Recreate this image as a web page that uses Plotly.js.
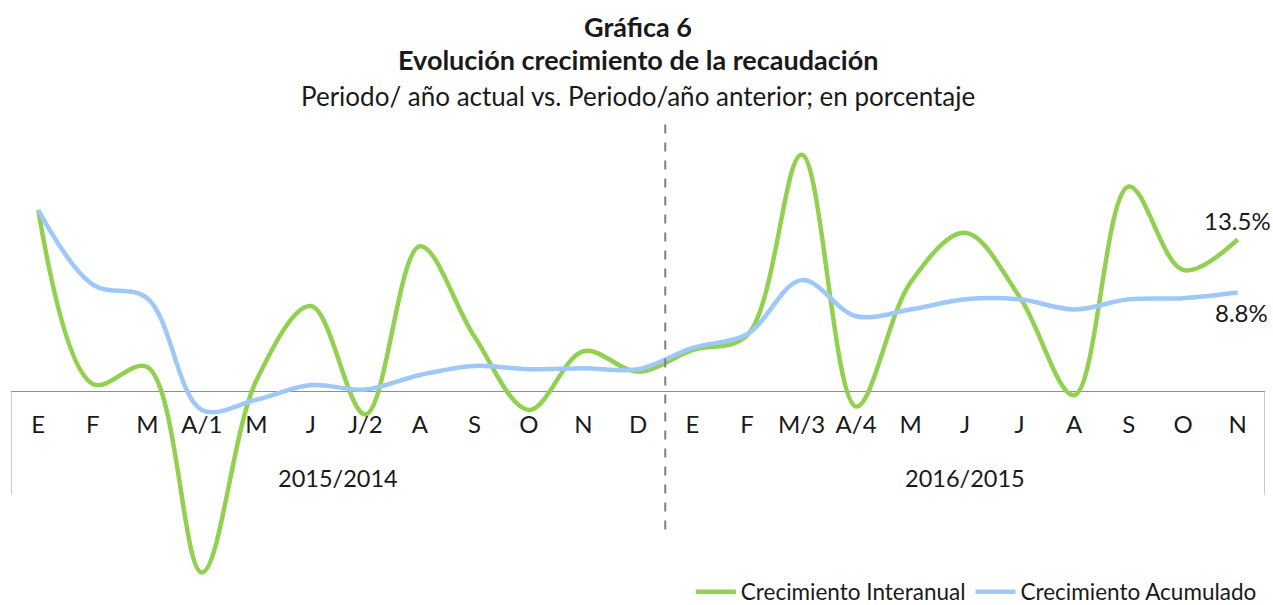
<!DOCTYPE html>
<html>
<head>
<meta charset="utf-8">
<script src="https://cdn.plot.ly/plotly-3.0.1.min.js"></script>
<style>html,body{margin:0;padding:0;background:#fff;}#chart{width:1273px;height:605px;}</style>
</head>
<body>
<div id="chart"></div>
<script>
// Data
const months = ["E","F","M","A/1","M","J","J/2","A","S","O","N","D",
                "E","F","M/3","A/4","M","J","J","A","S","O","N"];
const periods = ["2015/2014","2016/2015"];
const interanual = [16.1,0.7,2.2,-16.0,1.0,7.6,-2.0,12.9,4.9,-1.6,3.6,1.8,
                    3.7,5.0,21.0,-1.3,9.7,14.1,8.4,-0.3,18.2,10.8,13.5];
const acumulado = [16.1,9.5,8.3,-1.6,-0.7,0.6,0.2,1.5,2.3,2.0,2.1,2.0,
                   3.9,5.1,9.9,6.7,7.3,8.2,8.2,7.3,8.2,8.3,8.8];
const seriesNames = ["Crecimiento Interanual","Crecimiento Acumulado"];

const idx = months.map((m,i)=>i);
const FONT = "Lato, 'Open Sans', sans-serif";
const n = months.length;

const traces = [
  {x: idx, y: interanual, name: seriesNames[0], type:'scatter', mode:'lines',
   line:{color:'#92D050', width:4.5, shape:'spline', smoothing:1}, hoverinfo:'skip'},
  {x: idx, y: acumulado, name: seriesNames[1], type:'scatter', mode:'lines',
   line:{color:'#9DC8F8', width:4.5, shape:'spline', smoothing:1}, hoverinfo:'skip'}
];

const yMin = -18, yMax = 24;
const TOP = 121, BOT = 10, H = 605;
const plotH = H - TOP - BOT;
const py = px => (H - BOT - px) / plotH;   // pixel row -> paper y

const layout = {
  width:1273, height:605,
  margin:{l:11, r:8, t:TOP, b:BOT, autoexpand:false},
  paper_bgcolor:'#fff', plot_bgcolor:'#fff',
  font:{family:FONT, color:'#1a1a1a', size:22},
  showlegend:true,
  legend:{orientation:'h', x:0.9975, xanchor:'right', y:py(592), yanchor:'middle',
          font:{family:FONT, size:22.5, color:'#1a1a1a'}, itemwidth:40, tracegroupgap:0,
          bgcolor:'rgba(0,0,0,0)'},
  xaxis:{range:[-0.5, n-0.5], tickmode:'array', tickvals:idx, ticktext:months,
         anchor:'free', position:(0-yMin)/(yMax-yMin), showgrid:false, zeroline:false,
         showline:false, ticks:'', ticklabelstandoff:16,
         tickfont:{family:FONT, size:24, color:'#1a1a1a'}, fixedrange:true},
  yaxis:{range:[yMin,yMax], showgrid:false, showticklabels:false, zeroline:true,
         zerolinecolor:'#8f8f8f', zerolinewidth:1.2, showline:false, fixedrange:true},
  shapes:[
    {type:'line', xref:'x', yref:'y', x0:-0.5, x1:-0.5, y0:0, y1:-9.13, line:{color:'#a6a6a6', width:1.2}},
    {type:'line', xref:'x', yref:'y', x0:n-0.5, x1:n-0.5, y0:0, y1:-9.13, line:{color:'#a6a6a6', width:1.2}},
    {type:'line', xref:'x', yref:'y', x0:11.5, x1:11.5, y0:23.7, y1:-12.2, line:{color:'#7f7f7f', width:2, dash:'dash'}}
  ],
  annotations:[
    {text:'<b>Gráfica 6</b>', xref:'paper', yref:'paper', x:0.5, y:py(27), yanchor:'middle', showarrow:false, font:{size:27, family:FONT}},
    {text:'<b>Evolución crecimiento de la recaudación</b>', xref:'paper', yref:'paper', x:0.5, y:py(60), yanchor:'middle', showarrow:false, font:{size:27, family:FONT}},
    {text:'Periodo/ año actual vs. Periodo/año anterior; en porcentaje', xref:'paper', yref:'paper', x:0.5, y:py(96), yanchor:'middle', showarrow:false, font:{size:26, family:FONT}},
    {text:periods[0], xref:'x', yref:'y', x:5.5, y:-7.6, showarrow:false, font:{size:23.5, family:FONT}},
    {text:periods[1], xref:'x', yref:'y', x:17, y:-7.6, showarrow:false, font:{size:23.5, family:FONT}},
    {text:interanual[n-1].toFixed(1)+'%', xref:'x', yref:'y', x:n-1, y:interanual[n-1], yshift:19, xshift:0, xanchor:'center', showarrow:false, font:{size:24, family:FONT}},
    {text:acumulado[n-1].toFixed(1)+'%', xref:'x', yref:'y', x:n-1, y:acumulado[n-1], yshift:-20, xshift:4, xanchor:'center', showarrow:false, font:{size:24, family:FONT}}
  ]
};
Plotly.newPlot('chart', traces, layout, {displayModeBar:false, staticPlot:true});
</script>
</body>
</html>
